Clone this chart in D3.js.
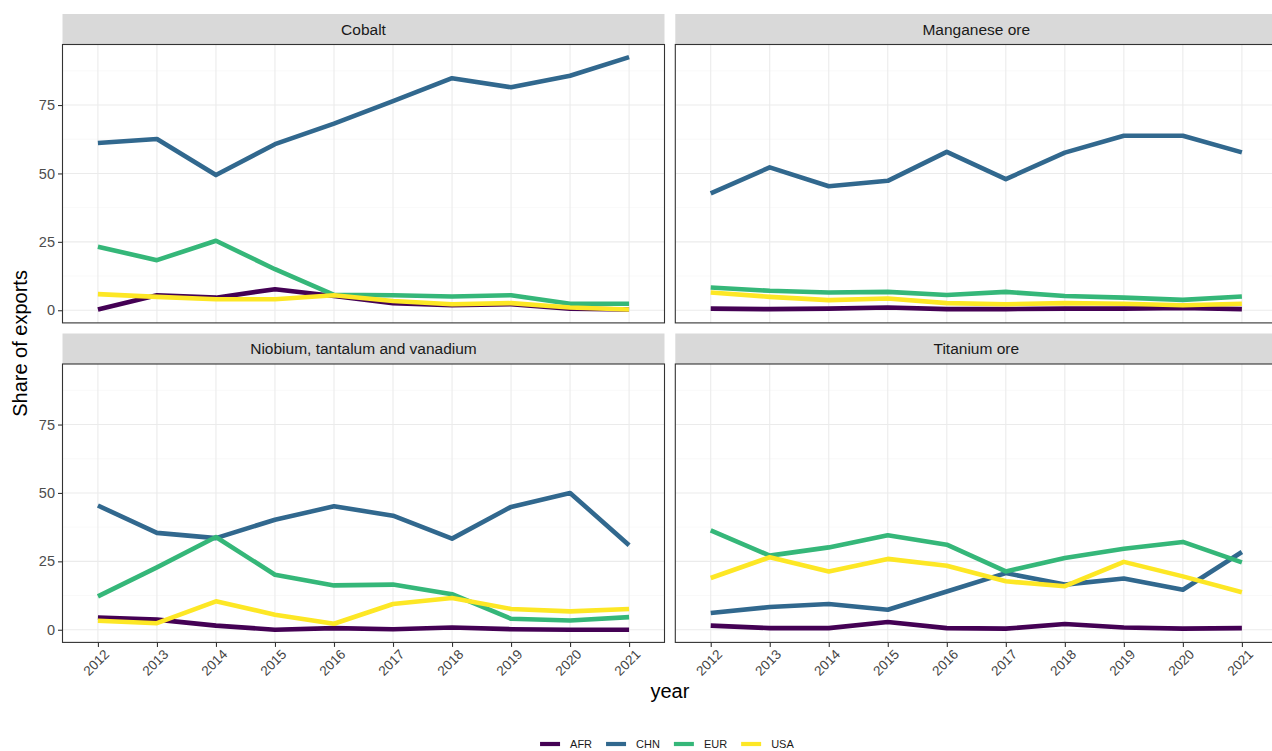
<!DOCTYPE html>
<html>
<head>
<meta charset="utf-8">
<script src="https://cdn.jsdelivr.net/npm/d3@7"></script>
<style>
  html, body { margin: 0; padding: 0; background: #ffffff; }
  svg { display: block; font-family: "Liberation Sans", Arial, Helvetica, sans-serif; }
</style>
</head>
<body>
<svg id="chart" width="1272" height="751"></svg>
<script>
// Export shares by destination region, 2012–2021
const years = [2012, 2013, 2014, 2015, 2016, 2017, 2018, 2019, 2020, 2021];
const regions = ["AFR", "CHN", "EUR", "USA"];
const minerals = ["Cobalt", "Manganese ore", "Niobium, tantalum and vanadium", "Titanium ore"];
const yTicks = [0, 25, 50, 75];

const cobaltAFR = [0.3, 5.5, 4.6, 7.7, 5.2, 2.6, 1.8, 2.2, 0.6, 0.3];
const cobaltCHN = [61.1, 62.6, 49.4, 60.7, 68.2, 76.4, 84.8, 81.5, 85.7, 92.5];
const cobaltEUR = [23.2, 18.3, 25.4, 15.0, 5.6, 5.5, 5.0, 5.5, 2.4, 2.4];
const cobaltUSA = [5.9, 4.9, 4.0, 4.0, 5.5, 3.4, 2.2, 2.6, 1.0, 0.3];

const manganeseAFR = [0.6, 0.4, 0.6, 1.0, 0.4, 0.4, 0.6, 0.6, 0.8, 0.4];
const manganeseCHN = [42.7, 52.2, 45.3, 47.3, 57.9, 47.9, 57.6, 63.8, 63.8, 57.7];
const manganeseEUR = [8.3, 7.1, 6.5, 6.7, 5.6, 6.7, 5.2, 4.6, 3.8, 5.0];
const manganeseUSA = [6.5, 4.9, 3.7, 4.3, 2.6, 2.2, 2.6, 2.4, 1.8, 2.4];

const niobiumAFR = [4.5, 3.7, 1.5, 0.0, 0.6, 0.2, 0.8, 0.2, 0.0, 0.0];
const niobiumCHN = [45.4, 35.4, 33.5, 40.2, 45.1, 41.7, 33.3, 44.9, 50.0, 30.9];
const niobiumEUR = [12.2, 22.8, 33.9, 20.1, 16.2, 16.5, 13.0, 4.0, 3.4, 4.6];
const niobiumUSA = [3.3, 2.4, 10.4, 5.5, 2.2, 9.4, 11.6, 7.6, 6.7, 7.6];

const titaniumAFR = [1.5, 0.6, 0.6, 2.8, 0.6, 0.4, 2.1, 0.8, 0.4, 0.6];
const titaniumCHN = [6.1, 8.3, 9.4, 7.3, 14.0, 20.7, 16.5, 18.7, 14.6, 28.4];
const titaniumEUR = [36.3, 27.1, 30.1, 34.5, 31.1, 21.3, 26.2, 29.6, 32.1, 24.6];
const titaniumUSA = [18.9, 26.5, 21.3, 25.9, 23.4, 17.7, 15.9, 24.8, 19.5, 13.7];

const seriesByMineral = {
  "Cobalt": [cobaltAFR, cobaltCHN, cobaltEUR, cobaltUSA],
  "Manganese ore": [manganeseAFR, manganeseCHN, manganeseEUR, manganeseUSA],
  "Niobium, tantalum and vanadium": [niobiumAFR, niobiumCHN, niobiumEUR, niobiumUSA],
  "Titanium ore": [titaniumAFR, titaniumCHN, titaniumEUR, titaniumUSA]
};

const colors = d3.scaleOrdinal().domain(regions).range(["#440154", "#31688E", "#35B779", "#FDE725"]);

// facet layout
const svg = d3.select("#chart");
const marginLeft = 62.5, marginTop = 14;
const stripH = 30.5, panelW = 602, panelH = 278.4;
const gapX = 10.8, gapY = 10.6;
const nCol = 2;

const x = d3.scalePoint().domain(years).range([0, panelW]).padding(0.6);

const allVals = minerals.flatMap(m => seriesByMineral[m].flat());
const yMin = d3.min(allVals), yMax = d3.max(allVals);
const yPad = (yMax - yMin) * 0.05;
const y = d3.scaleLinear().domain([yMin - yPad, yMax + yPad]).range([panelH, 0]);
const yMinor = [12.5, 37.5, 62.5, 87.5];

const line = d3.line()
  .x((d, i) => x(years[i]))
  .y(d => y(d))
  .curve(d3.curveLinear);

minerals.forEach((m, k) => {
  const col = k % nCol, row = Math.floor(k / nCol);
  const px = marginLeft + col * (panelW + gapX);
  const sy = marginTop + row * (stripH + panelH + gapY);
  const py = sy + stripH;

  // strip
  svg.append("rect")
    .attr("x", px).attr("y", sy).attr("width", panelW).attr("height", stripH)
    .attr("fill", "#D9D9D9");
  svg.append("text")
    .attr("x", px + panelW / 2).attr("y", sy + stripH / 2)
    .attr("dy", "0.35em")
    .attr("text-anchor", "middle")
    .attr("font-size", 15.5)
    .attr("fill", "#1A1A1A")
    .text(m);

  const g = svg.append("g").attr("transform", `translate(${px},${py})`);

  g.append("rect").attr("width", panelW).attr("height", panelH).attr("fill", "#ffffff");

  // grid
  g.selectAll(".ymin").data(yMinor).join("line")
    .attr("x1", 0).attr("x2", panelW)
    .attr("y1", d => y(d)).attr("y2", d => y(d))
    .attr("stroke", "#F5F5F5").attr("stroke-width", 0.6);
  g.selectAll(".ymaj").data(yTicks).join("line")
    .attr("x1", 0).attr("x2", panelW)
    .attr("y1", d => y(d)).attr("y2", d => y(d))
    .attr("stroke", "#EBEBEB").attr("stroke-width", 1.1);
  g.selectAll(".xmaj").data(years).join("line")
    .attr("x1", d => x(d)).attr("x2", d => x(d))
    .attr("y1", 0).attr("y2", panelH)
    .attr("stroke", "#EBEBEB").attr("stroke-width", 1.1);

  // lines
  const series = seriesByMineral[m];
  regions.forEach((r, i) => {
    g.append("path")
      .datum(series[i])
      .attr("d", line)
      .attr("fill", "none")
      .attr("stroke", colors(r))
      .attr("stroke-width", 4.6)
      .attr("stroke-linejoin", "round")
      .attr("stroke-linecap", "butt");
  });

  // panel border
  g.append("rect").attr("width", panelW).attr("height", panelH)
    .attr("fill", "none").attr("stroke", "#333333").attr("stroke-width", 1.1);

  // y axis on left column
  if (col === 0) {
    const ya = g.append("g").call(d3.axisLeft(y).tickValues(yTicks).tickSize(4.5).tickPadding(3).tickFormat(d3.format("d")));
    ya.select(".domain").remove();
    ya.selectAll(".tick line").attr("stroke", "#333333").attr("stroke-width", 1.1);
    ya.selectAll(".tick text")
      .attr("fill", "#4D4D4D")
      .attr("font-size", 14.5)
      .attr("font-family", "Liberation Sans, Arial, sans-serif");
  }

  // x axis on bottom row
  if (row === 1) {
    const xa = g.append("g").attr("transform", `translate(0,${panelH})`)
      .call(d3.axisBottom(x).tickSize(4.5).tickPadding(3));
    xa.select(".domain").remove();
    xa.selectAll(".tick line").attr("stroke", "#333333").attr("stroke-width", 1.1);
    xa.selectAll(".tick text")
      .attr("fill", "#444444")
      .attr("font-size", 13.5)
      .attr("font-family", "Liberation Sans, Arial, sans-serif")
      .attr("text-anchor", "end")
      .attr("x", 5)
      .attr("y", 6)
      .attr("dy", "0.71em")
      .attr("transform", "rotate(-45, 5, 6)");
  }
});

// axis titles
const plotLeft = marginLeft, plotRight = marginLeft + 2 * panelW + gapX;
const panelsTop = marginTop + stripH;
const panelsBottom = marginTop + 2 * (stripH + panelH) + gapY;

svg.append("text")
  .attr("x", (plotLeft + plotRight) / 2)
  .attr("y", 698)
  .attr("text-anchor", "middle")
  .attr("font-size", 20)
  .attr("fill", "#000000")
  .text("year");

svg.append("text")
  .attr("transform", `translate(27,${(panelsTop + panelsBottom) / 2}) rotate(-90)`)
  .attr("text-anchor", "middle")
  .attr("font-size", 20)
  .attr("fill", "#000000")
  .text("Share of exports");

// legend
const legend = svg.append("g");
const keyW = 20, keyGap = 10, itemGap = 14;
let cursor = 0;
regions.forEach(r => {
  const it = legend.append("g");
  it.append("line")
    .attr("x1", 0).attr("x2", keyW).attr("y1", 0).attr("y2", 0)
    .attr("stroke", colors(r)).attr("stroke-width", 4.2);
  const t = it.append("text")
    .attr("x", keyW + keyGap).attr("y", 0).attr("dy", "0.35em")
    .attr("font-size", 11)
    .attr("fill", "#1A1A1A")
    .text(r);
  const w = keyW + keyGap + t.node().getComputedTextLength();
  it.attr("transform", `translate(${cursor},0)`);
  cursor += w + itemGap;
});
const legendW = cursor - itemGap;
legend.attr("transform", `translate(${(plotLeft + plotRight) / 2 - legendW / 2 - 3},744)`);
</script>
</body>
</html>
